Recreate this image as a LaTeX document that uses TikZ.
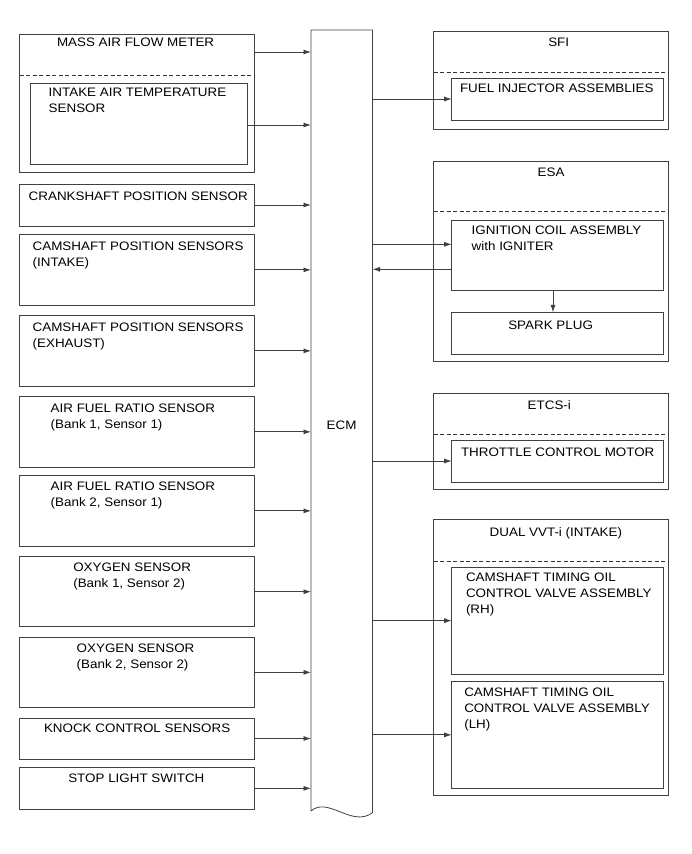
\documentclass[tikz,border=0pt]{standalone}
\usepackage{fontspec}
\setmainfont{Liberation Sans}[FakeStretch=1.09]
\usetikzlibrary{arrows.meta}
\newcommand\lns[1]{\begin{tabular}[t]{@{}l@{}}#1\end{tabular}}
\newcommand\mkbox[6][]{\node[bx,#1, minimum width={#4pt-#2pt}, minimum height={#6pt-#3pt}] (#5) at ({(#2+#4)/2},{(#3+#6)/2}) {};}
\tikzset{
  bx/.style={draw=black!75, line width=0.8pt, inner sep=0pt, outer sep=0pt, rectangle},
  ln/.style={draw=black!75, line width=0.8pt},
  dsh/.style={draw=black!80, line width=0.8pt, dash pattern=on 4pt off 2.5pt},
  arr/.style={draw=black!75, line width=0.8pt, -{Latex[length=7.5pt,width=5pt]}},
  txt/.style={inner sep=0pt, outer sep=0pt, anchor=base west, font=\fontsize{12.3}{16}\selectfont, text=black},
}
\begin{document}
\begin{tikzpicture}[x=1pt,y=-1pt]
\useasboundingbox (0,0) rectangle (691,854);
% left column boxes  (x1,y1,x2,name,y2)
\mkbox{19.5}{34}{254.3}{maf}{172.7}
\mkbox{30}{83}{247}{iat}{164}
\mkbox{19.5}{184}{254.3}{crank}{226}
\mkbox{19.5}{234.7}{254.3}{camin}{305}
\mkbox{19.5}{315.7}{254.3}{camex}{386}
\mkbox{19.5}{396.7}{254.3}{afra}{467}
\mkbox{19.5}{475.7}{254.3}{afrb}{546}
\mkbox{19.5}{556.7}{254.3}{oxa}{626.7}
\mkbox{19.5}{637}{254.3}{oxb}{707.7}
\mkbox{19.5}{718}{254.3}{knock}{759}
\mkbox{19.5}{767.7}{254.3}{stop}{809}
\draw[dsh] (maf.west |- 0,75) -- (maf.east |- 0,75);
% ECM
\mkbox[draw=none]{311}{30}{372.5}{ecm}{811}
\draw[ln] (ecm.south west) -- (ecm.north west) -- (ecm.north east) -- ([yshift=-1.7pt]ecm.south east)
  .. controls (352,828) and (328,796) .. (ecm.south west);
% right column
\mkbox{433.7}{31.7}{668}{sfi}{129}
\mkbox{451.7}{78}{663.7}{fuel}{120}
\mkbox{433.7}{161.7}{668}{esa}{361.7}
\mkbox{451.7}{220}{663.7}{ign}{290.7}
\mkbox{451.7}{312.3}{663.7}{spark}{354}
\mkbox{433.7}{393.3}{668}{etcs}{489}
\mkbox{451.7}{440}{663.7}{thr}{482}
\mkbox{433.7}{519.3}{668}{vvt}{795}
\mkbox{451.7}{567.3}{663.7}{rh}{674}
\mkbox{451.7}{681.7}{663.7}{lh}{788}
\draw[dsh] (sfi.west |- 0,72.7) -- (sfi.east |- 0,72.7);
\draw[dsh] (esa.west |- 0,211.7) -- (esa.east |- 0,211.7);
\draw[dsh] (etcs.west |- 0,434) -- (etcs.east |- 0,434);
\draw[dsh] (vvt.west |- 0,561.7) -- (vvt.east |- 0,561.7);
% texts
\node[txt] (tmaf) at (57,46.7) {MASS AIR FLOW METER};
\node[txt] (tiat) at (48.7,96.7) {\lns{INTAKE AIR TEMPERATURE\\SENSOR}};
\node[txt] (tcrank) at (28.7,200) {CRANKSHAFT POSITION SENSOR};
\node[txt] (tcamin) at (32.7,250.7) {\lns{CAMSHAFT POSITION SENSORS\\(INTAKE)}};
\node[txt] (tcamex) at (32.7,331.7) {\lns{CAMSHAFT POSITION SENSORS\\(EXHAUST)}};
\node[txt] (tafra) at (50.7,412.3) {\lns{AIR FUEL RATIO SENSOR\\(Bank 1, Sensor 1)}};
\node[txt] (tafrb) at (50.7,490.7) {\lns{AIR FUEL RATIO SENSOR\\(Bank 2, Sensor 1)}};
\node[txt] (toxa) at (73.3,571.7) {\lns{OXYGEN SENSOR\\(Bank 1, Sensor 2)}};
\node[txt] (toxb) at (76.7,652.3) {\lns{OXYGEN SENSOR\\(Bank 2, Sensor 2)}};
\node[txt] (tknock) at (44,732.3) {KNOCK CONTROL SENSORS};
\node[txt] (tstop) at (68.3,782.3) {STOP LIGHT SWITCH};
\node[txt] (tecm) at (326.7,429) {ECM};
\node[txt] (tsfi) at (548.3,46) {SFI};
\node[txt] (tfuel) at (460,92.7) {FUEL INJECTOR ASSEMBLIES};
\node[txt] (tesa) at (537.7,176.3) {ESA};
\node[txt] (tign) at (471.7,234.3) {\lns{IGNITION COIL ASSEMBLY\\with IGNITER}};
\node[txt] (tspark) at (508.3,329.3) {SPARK PLUG};
\node[txt] (tetcs) at (527.7,409) {ETCS-i};
\node[txt] (tthr) at (461,456.7) {THROTTLE CONTROL MOTOR};
\node[txt] (tvvt) at (489.7,536.7) {DUAL VVT-i (INTAKE)};
\node[txt] (trh) at (466,581) {\lns{CAMSHAFT TIMING OIL\\CONTROL VALVE ASSEMBLY\\(RH)}};
\node[txt] (tlh) at (464.3,696.7) {\lns{CAMSHAFT TIMING OIL\\CONTROL VALVE ASSEMBLY\\(LH)}};
% input arrows
\draw[arr] (maf.east |- 0,52) -- (ecm.west |- 0,52);
\draw[arr] (iat.east |- 0,125) -- (ecm.west |- 0,125);
\foreach \b in {crank,camin,camex,afra,afrb,oxa,oxb,knock,stop}
  \draw[arr] (\b.east) -- (\b.east -| ecm.west);
% output arrows
\draw[arr] (ecm.east |- fuel.west) -- (fuel.west);
\draw[arr] (ecm.east |- 0,244.3) -- (ign.west |- 0,244.3);
\draw[arr] (ign.west |- 0,269.3) -- (ecm.east |- 0,269.3);
\draw[arr] (ign.south -| 553,0) -- (spark.north -| 553,0);
\draw[arr] (ecm.east |- thr.west) -- (thr.west);
\draw[arr] (ecm.east |- rh.west) -- (rh.west);
\draw[arr] (ecm.east |- lh.west) -- (lh.west);
\end{tikzpicture}
\end{document}
